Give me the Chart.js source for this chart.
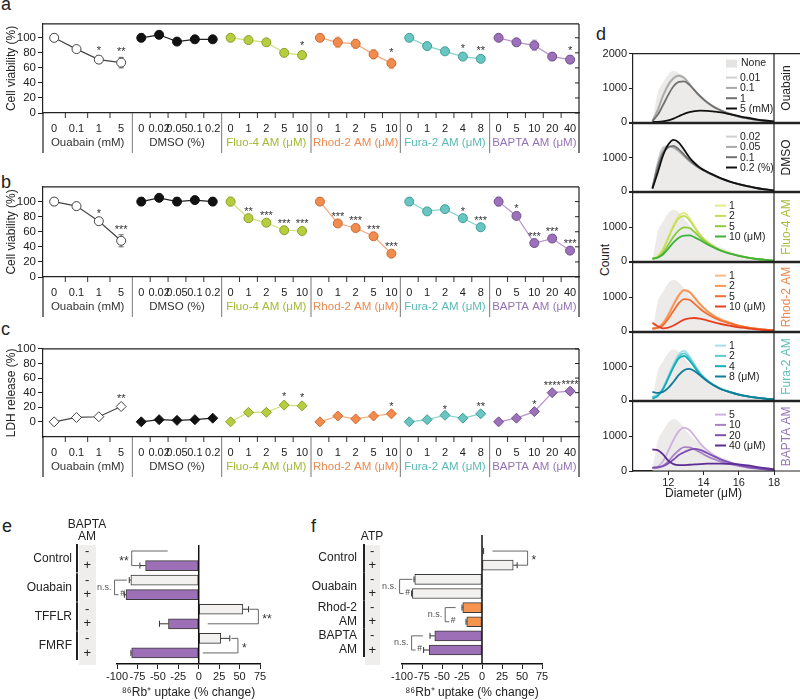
<!DOCTYPE html>
<html>
<head>
<meta charset="utf-8">
<script src="https://cdn.jsdelivr.net/npm/chart.js@4.4.1/dist/chart.umd.min.js"></script>
<style>
  html, body { margin: 0; padding: 0; background: #fff; }
  body { position: relative; width: 800px; height: 700px; overflow: hidden; font-family: 'Liberation Sans', Arial, sans-serif; color: #222; }
  canvas { position: absolute; }
  .panel { position: absolute; font-size: 18px; line-height: 1; }
  .vtitle { position: absolute; font-size: 12px; white-space: nowrap; transform: translate(-50%, -50%) rotate(-90deg); }
</style>
</head>
<body>
<div class="panel" style="left:1px;top:-5px">a</div>
<div class="panel" style="left:1px;top:173px">b</div>
<div class="panel" style="left:1px;top:320px">c</div>
<div class="panel" style="left:596px;top:25px">d</div>
<div class="panel" style="left:2px;top:517px">e</div>
<div class="panel" style="left:311px;top:517px">f</div>
<div class="vtitle" style="left:605px;top:260px">Count</div>

<canvas id="rowA" width="600" height="140" style="left:0;top:15px"></canvas>
<canvas id="rowB" width="600" height="141" style="left:0;top:178px"></canvas>
<canvas id="rowC" width="600" height="139" style="left:0;top:340px"></canvas>
<canvas id="barE" width="330" height="200" style="left:0;top:500px"></canvas>
<canvas id="barF" width="320" height="200" style="left:300px;top:500px"></canvas>

<script>
// panels a-c: dose groups
const groupNames = ['Ouabain (mM)', 'DMSO (%)', 'Fluo-4 AM (μM)', 'Rhod-2 AM (μM)', 'Fura-2 AM (μM)', 'BAPTA AM (μM)'];
const doseLabels = [
  ['0', '0.1', '1', '5'],
  ['0', '0.02', '0.05', '0.1', '0.2'],
  ['0', '1', '2', '5', '10'],
  ['0', '1', '2', '5', '10'],
  ['0', '1', '2', '4', '8'],
  ['0', '5', '10', '20', '40']
];

const viabilityA = [[100, 85, 71, 67], [100, 104, 95, 98, 98], [100, 97, 94, 80, 77], [100, 94, 92, 78, 66], [100, 89, 82, 75, 72], [100, 94, 90, 75, 71]];
const viabilityAErr = [[5, 3, 5, 7], [5, 4, 2, 2, 2], [5, 3, 3, 5, 5], [5, 7, 6, 6, 7], [4, 4, 3, 4, 4], [4, 5, 7, 5, 5]];
const viabilityAStars = [['', '', '*', '**'], ['', '', '', '', ''], ['', '', '', '', '*'], ['', '', '', '', '*'], ['', '', '', '*', '**'], ['', '', '', '', '*']];

const viabilityB = [[100, 94, 74, 48], [100, 105, 100, 102, 100], [100, 78, 72, 62, 61], [100, 71, 65, 54, 31], [100, 87, 90, 78, 66], [100, 81, 45, 51, 35]];
const viabilityBErr = [[5, 5, 3, 8], [5, 2, 5, 3, 5], [6, 2, 2, 2, 3], [5, 2, 2, 2, 2], [5, 2, 2, 2, 2], [6, 3, 2, 2, 2]];
const viabilityBStars = [['', '', '*', '***'], ['', '', '', '', ''], ['', '**', '***', '***', '***'], ['', '***', '***', '***', '***'], ['', '', '', '*', '***'], ['', '*', '***', '***', '***']];

const ldhRelease = [[0, 6, 7, 21], [0, 3, 2, 3, 5], [0, 13, 13, 23, 22], [0, 8, 4, 8, 11], [0, 3, 9, 5, 11], [0, 5, 14, 40, 42]];
const ldhReleaseErr = [[1, 1, 1, 4], [1, 1, 1, 1, 1], [1, 2, 2, 4, 4], [1, 1, 1, 1, 2], [1, 1, 1, 1, 2], [1, 1, 2, 2, 2]];
const ldhReleaseStars = [['', '', '', '**'], ['', '', '', '', ''], ['', '', '', '*', '*'], ['', '', '', '', '*'], ['', '', '*', '', '**'], ['', '', '*', '****', '****']];

// panel d: cell diameter histograms
const diameter = [11.1, 11.4, 11.7, 12.0, 12.3, 12.6, 12.9, 13.2, 13.5, 13.8, 14.2, 14.6, 15.0, 15.5, 16.0, 16.5, 17.0, 17.5, 18.0];
const countNone = [0, 850, 1150, 1400, 1500, 1420, 1250, 1060, 900, 770, 630, 500, 400, 300, 210, 150, 100, 60, 30];
const countOuabain = [
  [40, 380, 800, 1120, 1310, 1380, 1310, 1130, 930, 760, 580, 440, 340, 240, 170, 115, 75, 45, 25],
  [40, 350, 760, 1080, 1280, 1350, 1290, 1110, 920, 750, 575, 440, 340, 240, 170, 115, 75, 45, 25],
  [40, 220, 500, 800, 1050, 1180, 1190, 1090, 930, 770, 590, 450, 345, 245, 170, 115, 75, 45, 25],
  [10, 15, 30, 60, 110, 180, 250, 300, 330, 340, 335, 315, 290, 240, 185, 135, 90, 55, 30]
];
const countDmso = [
  [100, 850, 1300, 1340, 1280, 1170, 1030, 890, 770, 670, 560, 460, 370, 280, 210, 150, 100, 60, 30],
  [100, 780, 1200, 1320, 1300, 1200, 1050, 900, 780, 680, 565, 465, 375, 285, 210, 150, 100, 60, 30],
  [100, 700, 1120, 1300, 1340, 1240, 1080, 920, 790, 685, 570, 470, 380, 285, 215, 155, 100, 60, 30],
  [80, 550, 1050, 1380, 1520, 1440, 1230, 1000, 830, 700, 580, 480, 385, 290, 215, 155, 100, 60, 30]
];
const countFluo = [
  [80, 150, 360, 720, 1070, 1330, 1410, 1260, 1010, 790, 570, 430, 320, 230, 160, 110, 70, 45, 25],
  [80, 130, 330, 670, 1010, 1260, 1320, 1200, 980, 770, 565, 425, 320, 230, 160, 110, 70, 45, 25],
  [80, 120, 250, 480, 720, 900, 990, 970, 850, 700, 540, 410, 315, 230, 160, 110, 70, 45, 25],
  [80, 110, 200, 370, 550, 690, 750, 755, 700, 620, 500, 400, 310, 225, 160, 110, 70, 45, 25]
];
const countRhod = [
  [80, 120, 250, 500, 800, 1070, 1210, 1160, 990, 800, 600, 450, 340, 250, 170, 120, 80, 50, 30],
  [80, 110, 230, 470, 770, 1040, 1190, 1140, 970, 790, 595, 450, 340, 250, 170, 120, 80, 50, 30],
  [80, 100, 180, 370, 600, 820, 940, 920, 800, 660, 510, 400, 310, 230, 160, 110, 75, 50, 30],
  [250, 150, 90, 110, 170, 260, 340, 380, 390, 370, 320, 265, 215, 165, 120, 90, 60, 40, 25]
];
const countFura = [
  [100, 160, 370, 720, 1070, 1360, 1460, 1300, 1050, 820, 600, 450, 340, 250, 170, 120, 80, 50, 30],
  [100, 150, 340, 680, 1020, 1300, 1390, 1250, 1020, 800, 590, 445, 335, 245, 170, 120, 80, 50, 30],
  [50, 130, 330, 650, 980, 1240, 1310, 1180, 970, 770, 580, 440, 330, 245, 170, 120, 80, 50, 30],
  [250, 220, 250, 370, 550, 750, 890, 930, 860, 740, 575, 440, 330, 245, 170, 120, 80, 50, 30]
];
const countBapta = [
  [80, 120, 280, 580, 900, 1150, 1250, 1180, 1000, 800, 600, 450, 340, 250, 170, 120, 80, 50, 30],
  [80, 90, 150, 280, 450, 600, 690, 680, 620, 540, 430, 340, 270, 200, 150, 100, 70, 45, 25],
  [100, 110, 140, 220, 330, 460, 540, 610, 640, 610, 520, 420, 330, 240, 170, 120, 80, 50, 30],
  [620, 600, 480, 300, 200, 170, 170, 180, 190, 200, 210, 215, 215, 205, 190, 160, 120, 80, 50]
];
const histNames = ['Ouabain', 'DMSO', 'Fluo-4 AM', 'Rhod-2 AM', 'Fura-2 AM', 'BAPTA AM'];
const histLegends = [
  ['0.01', '0.1', '1', '5 (mM)'],
  ['0.02', '0.05', '0.1', '0.2 (%)'],
  ['1', '2', '5', '10 (μM)'],
  ['1', '2', '5', '10 (μM)'],
  ['1', '2', '4', '8 (μM)'],
  ['5', '10', '20', '40 (μM)']
];

// panels e, f: 86Rb+ uptake
const eGroups = [['Control'], ['Ouabain'], ['TFFLR'], ['FMRF']];
const eMinus = [0, -83, 54, 27];
const eMinusErr = [0, 2, 7, 11];
const ePlus = [-65, -89, -37, -82];
const ePlusErr = [7, 2, 11, 1];

const fGroups = [['Control'], ['Ouabain'], ['Rhod-2', 'AM'], ['BAPTA', 'AM']];
const fMinus = [1, -84, -24, -59];
const fMinusErr = [1, 1, 1, 6];
const fPlus = [39, -87, -19, -66];
const fPlusErr = [5, 1, 1, 7];

const uptakeTicks = [-100, -75, -50, -25, 0, 25, 50, 75];

// ---- styles ----
const FONT = "'Liberation Sans', Arial, sans-serif";
Chart.defaults.font.family = FONT;
Chart.defaults.font.size = 11;
Chart.defaults.color = '#222';
Chart.defaults.animation = false;
Chart.defaults.responsive = false;
Chart.defaults.events = [];
Chart.defaults.plugins.legend.display = false;
Chart.defaults.plugins.tooltip.enabled = false;

const groupStyle = [
  { line: '#444', fill: '#fff', stroke: '#444', err: '#666', text: '#333' },
  { line: '#222', fill: '#111', stroke: '#111', err: '#444', text: '#333' },
  { line: '#cfe07c', fill: '#b6cd3e', stroke: '#8c9e2c', err: '#d2e18a', text: '#a2ba34' },
  { line: '#f6a878', fill: '#f28c4e', stroke: '#c86a32', err: '#f5b08a', text: '#e98a50' },
  { line: '#84d2ce', fill: '#69c5c1', stroke: '#3f9c98', err: '#98dad6', text: '#5cbab5' },
  { line: '#b894cf', fill: '#9c70ba', stroke: '#70508c', err: '#c4a6da', text: '#9574b6' }
];

const histStyle = [
  { name: '#222', lines: ['#d0d0d0', '#a9a9a9', '#707070', '#111111'], legendX: 726 },
  { name: '#222', lines: ['#d0d0d0', '#a9a9a9', '#707070', '#111111'], legendX: 726 },
  { name: '#a7bd3c', lines: ['#e2ea8a', '#c3dc5c', '#8ccb3a', '#3fb23c'], legendX: 715 },
  { name: '#ea8a52', lines: ['#fcb886', '#f89655', '#f46d30', '#e8401f'], legendX: 715 },
  { name: '#62bdb9', lines: ['#a6dfe9', '#5ccbd0', '#14aebb', '#117b98'], legendX: 715 },
  { name: '#9676b8', lines: ['#cdb0e0', '#a783c9', '#7d50b2', '#5a2c94'], legendX: 715 }
];

function doseX(g, i) {
  return g + (i + 0.5) / doseLabels[g].length;
}

// ---- panels a, b, c ----
function doseDeco(values, errs, stars) {
  return {
    id: 'doseDeco',
    beforeDatasetsDraw(chart) {
      const { ctx, scales: { y } } = chart;
      ctx.save();
      ctx.lineWidth = 1;
      values.forEach((vals, g) => {
        const meta = chart.getDatasetMeta(g);
        ctx.strokeStyle = groupStyle[g].err;
        meta.data.forEach((pt, i) => {
          const e = errs[g][i];
          const y1 = y.getPixelForValue(vals[i] + e), y2 = y.getPixelForValue(vals[i] - e);
          ctx.beginPath();
          ctx.moveTo(pt.x, y1); ctx.lineTo(pt.x, y2);
          ctx.moveTo(pt.x - 2.5, y1); ctx.lineTo(pt.x + 2.5, y1);
          ctx.moveTo(pt.x - 2.5, y2); ctx.lineTo(pt.x + 2.5, y2);
          ctx.stroke();
        });
      });
      ctx.restore();
    },
    afterDraw(chart) {
      const { ctx, chartArea: a, scales: { x, y } } = chart;
      const drop = 40;
      ctx.save();
      ctx.strokeStyle = '#222';
      ctx.lineWidth = 1.2;
      ctx.beginPath();
      ctx.moveTo(a.left, a.top); ctx.lineTo(a.right, a.top);
      ctx.moveTo(a.right, a.top); ctx.lineTo(a.right, a.bottom + drop);
      ctx.moveTo(a.left, a.bottom); ctx.lineTo(a.left, a.bottom + drop);
      ctx.stroke();

      ctx.lineWidth = 1;
      [0, 20, 40, 60, 80, 100].forEach(v => {
        const py = y.getPixelForValue(v);
        ctx.beginPath(); ctx.moveTo(a.right, py); ctx.lineTo(a.right - 4, py); ctx.stroke();
      });

      ctx.strokeStyle = '#777';
      for (let g = 1; g < groupNames.length; g++) {
        const px = x.getPixelForValue(g);
        ctx.beginPath(); ctx.moveTo(px, a.bottom); ctx.lineTo(px, a.bottom + drop); ctx.stroke();
      }
      ctx.strokeStyle = '#333';
      doseLabels.forEach((labs, g) => {
        for (let i = 1; i < labs.length; i++) {
          const px = x.getPixelForValue(g + i / labs.length);
          ctx.beginPath(); ctx.moveTo(px, a.bottom); ctx.lineTo(px, a.bottom + 5); ctx.stroke();
        }
      });

      ctx.fillStyle = '#333';
      ctx.font = '11px ' + FONT;
      ctx.textAlign = 'center';
      ctx.textBaseline = 'alphabetic';
      values.forEach((vals, g) => {
        const meta = chart.getDatasetMeta(g);
        meta.data.forEach((pt, i) => {
          if (!stars[g][i]) return;
          ctx.fillText(stars[g][i], pt.x, y.getPixelForValue(vals[i] + errs[g][i]) - 2);
        });
      });
      ctx.restore();
    }
  };
}

function doseChart(id, values, errs, stars, o) {
  const tickPos = [], tickText = [];
  doseLabels.forEach((labs, g) => labs.forEach((t, i) => { tickPos.push(doseX(g, i)); tickText.push(t); }));
  const datasets = values.map((vals, g) => ({
    data: vals.map((v, i) => ({ x: doseX(g, i), y: v })),
    borderColor: groupStyle[g].line,
    borderWidth: 1.2,
    pointBackgroundColor: groupStyle[g].fill,
    pointBorderColor: groupStyle[g].stroke,
    pointBorderWidth: 1,
    pointRadius: o.radius,
    pointStyle: o.pointStyle,
    clip: false
  }));
  return new Chart(document.getElementById(id), {
    type: 'line',
    data: { datasets },
    options: {
      layout: { padding: { top: 8, right: 21, left: 0, bottom: 0 } },
      scales: {
        x: {
          type: 'linear', min: 0, max: 6, weight: 0,
          afterBuildTicks: ax => { ax.ticks = tickPos.map(v => ({ value: v })); },
          afterFit: ax => { ax.height = 19; },
          ticks: { autoSkip: false, maxRotation: 0, minRotation: 0, padding: 9, callback: (v, i) => tickText[i] },
          grid: { display: false, drawTicks: false },
          border: { color: '#222', width: 1.2 }
        },
        x2: {
          type: 'linear', position: 'bottom', min: 0, max: 6, weight: 1,
          afterBuildTicks: ax => { ax.ticks = groupNames.map((n, g) => ({ value: g + 0.5 })); },
          afterFit: ax => { ax.height = 23; },
          ticks: { autoSkip: false, maxRotation: 0, minRotation: 0, padding: 4, font: { size: 11.5 },
                   callback: (v, i) => groupNames[i], color: c => groupStyle[c.index].text },
          grid: { display: false, drawTicks: false },
          border: { display: false }
        },
        y: {
          min: o.min, max: o.max,
          afterBuildTicks: ax => { ax.ticks = [0, 20, 40, 60, 80, 100].map(v => ({ value: v })); },
          afterFit: ax => { ax.width = 43; },
          ticks: { padding: 2, font: { size: 11.5 } },
          grid: { drawOnChartArea: false, drawTicks: true, tickLength: 5, tickColor: '#222' },
          border: { color: '#222', width: 1.2 },
          title: { display: true, text: o.title, font: { size: 12 }, padding: { top: 4, bottom: 0 } }
        }
      }
    },
    plugins: [doseDeco(values, errs, stars)]
  });
}

doseChart('rowA', viabilityA, viabilityAErr, viabilityAStars, { min: 0, max: 118.5, radius: 4.5, pointStyle: 'circle', title: 'Cell viability (%)' });
doseChart('rowB', viabilityB, viabilityBErr, viabilityBStars, { min: 0, max: 119.5, radius: 4.5, pointStyle: 'circle', title: 'Cell viability (%)' });
doseChart('rowC', ldhRelease, ldhReleaseErr, ldhReleaseStars, { min: -20.8, max: 100, radius: 5, pointStyle: 'rectRot', title: 'LDH release (%)' });

// ---- panel d ----
function histDeco(k) {
  const st = histStyle[k];
  return {
    id: 'histDeco',
    afterDraw(chart) {
      const { ctx, chartArea: a, width: W } = chart;
      ctx.save();
      ctx.strokeStyle = '#222';
      ctx.lineWidth = 1.2;
      ctx.beginPath();
      ctx.moveTo(a.left, a.top); ctx.lineTo(W, a.top);
      ctx.moveTo(a.left, a.bottom); ctx.lineTo(W, a.bottom);
      ctx.moveTo(a.right, a.top); ctx.lineTo(a.right, a.bottom);
      ctx.stroke();

      ctx.save();
      ctx.translate(a.right + 12.5, (a.top + a.bottom) / 2);
      ctx.rotate(-Math.PI / 2);
      ctx.fillStyle = st.name;
      ctx.font = '12px ' + FONT;
      ctx.textAlign = 'center';
      ctx.textBaseline = 'middle';
      ctx.fillText(histNames[k], 0, 0);
      ctx.restore();

      const lx = st.legendX - 590;
      ctx.font = '10.5px ' + FONT;
      ctx.textAlign = 'left';
      ctx.textBaseline = 'middle';
      let yy = a.top + (k === 0 ? 10 : 13);
      if (k === 0) {
        ctx.fillStyle = '#e6e4e2';
        ctx.fillRect(lx, yy - 4, 11, 8);
        ctx.fillStyle = '#222';
        ctx.fillText('None', lx + 15, yy);
        yy += 14;
      }
      histLegends[k].forEach((lab, j) => {
        ctx.strokeStyle = st.lines[j];
        ctx.lineWidth = 2;
        ctx.beginPath(); ctx.moveTo(lx, yy); ctx.lineTo(lx + 11, yy); ctx.stroke();
        ctx.fillStyle = '#222';
        ctx.fillText(lab, lx + 14, yy + 0.5);
        yy += 10.3;
      });
      ctx.restore();
    }
  };
}

const histSeries = [countOuabain, countDmso, countFluo, countRhod, countFura, countBapta];
const histTop = 53, histBottom = 471;
histNames.forEach((name, k) => {
  const step = (histBottom - histTop) / histNames.length;
  const top = Math.round(histTop + k * step);
  const bottom = Math.round(histTop + (k + 1) * step);
  const last = k === histNames.length - 1;
  const cv = document.createElement('canvas');
  cv.width = 210;
  cv.height = bottom - top + 8 + (last ? 34 : 8);
  cv.style.left = '590px';
  cv.style.top = (top - 8) + 'px';
  document.body.appendChild(cv);

  const st = histStyle[k];
  const datasets = histSeries[k].map((vals, j) => ({
    label: histLegends[k][j],
    data: diameter.map((d, i) => ({ x: d, y: vals[i] })),
    borderColor: st.lines[j],
    borderWidth: 1.8,
    pointRadius: 0,
    cubicInterpolationMode: 'monotone',
    fill: false
  })).reverse();
  datasets.push({
    label: 'None',
    data: diameter.map((d, i) => ({ x: d, y: countNone[i] })),
    borderColor: 'rgba(0,0,0,0)',
    backgroundColor: '#ecebea',
    fill: 'origin',
    pointRadius: 0,
    cubicInterpolationMode: 'monotone'
  });

  const xAxis = {
    type: 'linear', min: 10, max: 18, display: last,
    ticks: { stepSize: 2, padding: 1, font: { size: 11 }, callback: v => (v === 10 ? '' : String(v)) },
    grid: { drawOnChartArea: false, tickLength: 4, tickColor: c => (c.tick && c.tick.value === 10 ? 'rgba(0,0,0,0)' : '#222') },
    border: { color: '#222', width: 1.2 },
    title: { display: true, text: 'Diameter (μM)', font: { size: 12 }, padding: { top: 0, bottom: 4 } }
  };
  if (last) xAxis.afterFit = ax => { ax.height = 34; };

  new Chart(cv, {
    type: 'line',
    data: { datasets },
    options: {
      layout: { padding: { top: 8, right: 26, left: 0, bottom: last ? 0 : 8 } },
      scales: {
        x: xAxis,
        y: {
          min: 0, max: 2000,
          afterFit: ax => { ax.width = 43; },
          ticks: { stepSize: 1000, padding: 2, font: { size: 11 }, callback: v => (v === 2000 && k > 0 ? '' : String(v)) },
          grid: { drawOnChartArea: false, tickLength: 4, tickColor: '#222' },
          border: { color: '#222', width: 1.2 }
        }
      }
    },
    plugins: [histDeco(k)]
  });
});

// ---- panels e, f ----
function barDeco(cfg, rows) {
  return {
    id: 'barDeco',
    beforeDraw(chart) {
      const ctx = chart.ctx;
      ctx.save();
      ctx.fillStyle = '#efeeec';
      ctx.fillRect(cfg.shade[0], cfg.shade[1], cfg.shade[2], cfg.shade[3]);
      ctx.restore();
    },
    afterDatasetsDraw(chart) {
      const { ctx, scales: { x } } = chart;
      const meta = chart.getDatasetMeta(0);
      ctx.save();
      ctx.strokeStyle = '#333';
      ctx.lineWidth = 1;
      meta.data.forEach((bar, i) => {
        const r = rows[i];
        if (!r.err) return;
        const dir = r.x < 0 ? -1 : 1;
        const end = x.getPixelForValue(r.x + dir * r.err);
        ctx.beginPath();
        ctx.moveTo(bar.x, bar.y); ctx.lineTo(end, bar.y);
        ctx.moveTo(end, bar.y - 3); ctx.lineTo(end, bar.y + 3);
        ctx.stroke();
      });
      ctx.restore();
    },
    afterDraw(chart) {
      const { ctx, chartArea: a, scales: { x, y } } = chart;
      ctx.save();
      const zx = x.getPixelForValue(0);
      ctx.strokeStyle = '#111';
      ctx.lineWidth = 1.5;
      ctx.beginPath(); ctx.moveTo(zx, cfg.zeroTop); ctx.lineTo(zx, a.bottom); ctx.stroke();

      cfg.brackets.forEach(b => {
        const y1 = y.getPixelForValue(b.row), y2 = y.getPixelForValue(b.row + 1);
        const xb = x.getPixelForValue(b.x);
        ctx.strokeStyle = '#666';
        ctx.lineWidth = 1;
        ctx.beginPath();
        ctx.moveTo(x.getPixelForValue(b.top), y1);
        ctx.lineTo(xb, y1);
        ctx.lineTo(xb, y2);
        ctx.lineTo(b.hash ? xb + 4 : x.getPixelForValue(b.bottom), y2);
        ctx.stroke();
        const star = b.text.indexOf('*') >= 0;
        ctx.fillStyle = star ? '#333' : '#555';
        ctx.font = (star ? '12px ' : '9px ') + FONT;
        ctx.textBaseline = 'middle';
        ctx.textAlign = b.side === 'left' ? 'right' : 'left';
        const tx = b.side === 'left' ? xb - 3 : xb + 4;
        ctx.fillText(b.text, tx, (y1 + y2) / 2 + (star ? 3 : 0));
        if (b.hash) {
          ctx.fillStyle = '#444';
          ctx.font = '8.5px ' + FONT;
          ctx.textAlign = 'center';
          ctx.fillText('#', xb + 8, y2 - 1);
        }
      });

      ctx.fillStyle = '#222';
      ctx.strokeStyle = '#222';
      ctx.font = '12px ' + FONT;
      ctx.textAlign = 'right';
      ctx.textBaseline = 'middle';
      cfg.groups.forEach((lines, g) => {
        const yA = y.getPixelForValue(2 * g), yB = y.getPixelForValue(2 * g + 1);
        if (lines.length === 1) ctx.fillText(lines[0], cfg.labelX, (yA + yB) / 2);
        else lines.forEach((t, i) => ctx.fillText(t, cfg.labelX, i ? yB : yA));
        ctx.lineWidth = 2;
        ctx.beginPath(); ctx.moveTo(cfg.barX, yA - 7); ctx.lineTo(cfg.barX, yB + 7); ctx.stroke();
      });
      ctx.textAlign = 'center';
      cfg.header.forEach(h => ctx.fillText(h[0], h[1], h[2]));
      ctx.restore();
    }
  };
}

function barChart(id, cfg) {
  const rows = [];
  cfg.minus.forEach((v, g) => {
    rows.push({ x: v, y: 2 * g, err: cfg.minusErr[g], fill: cfg.minusFill[g] });
    rows.push({ x: cfg.plus[g], y: 2 * g + 1, err: cfg.plusErr[g], fill: cfg.plusFill[g] });
  });
  return new Chart(document.getElementById(id), {
    type: 'bar',
    data: {
      datasets: [{
        data: rows.map(r => ({ x: r.x, y: r.y })),
        backgroundColor: rows.map(r => r.fill),
        borderColor: '#3a3a3a',
        borderWidth: 1,
        borderSkipped: false,
        barThickness: 10
      }]
    },
    options: {
      indexAxis: 'y',
      layout: { padding: { top: 43, right: cfg.padRight, left: 0, bottom: 0 } },
      scales: {
        x: {
          type: 'linear', min: -100, max: 75,
          afterBuildTicks: ax => { ax.ticks = uptakeTicks.map(v => ({ value: v })); },
          afterFit: ax => { ax.height = 36; },
          ticks: { autoSkip: false, maxRotation: 0, padding: 1, font: { size: 11 } },
          grid: { drawOnChartArea: false, drawTicks: true, tickLength: 5, tickColor: '#222' },
          border: { color: '#111', width: 1.5 },
          title: { display: true, text: '⁸⁶Rb⁺ uptake (% change)', font: { size: 12 }, padding: { top: 0, bottom: 0 } }
        },
        y: {
          type: 'linear', reverse: true, offset: false, min: cfg.yMin, max: cfg.yMax,
          afterBuildTicks: ax => { ax.ticks = rows.map(r => ({ value: r.y })); },
          afterFit: ax => { ax.width = cfg.axisWidth; },
          ticks: { autoSkip: false, crossAlign: 'center', padding: 26, font: { size: 13 }, callback: (v, i) => (i % 2 ? '+' : '-') },
          grid: { display: false, drawTicks: false },
          border: { display: false }
        }
      }
    },
    plugins: [barDeco(cfg, rows)]
  });
}

const white = '#f2f1ef', purple = '#9c6fb6', orange = '#f5954f';

barChart('barE', {
  minus: eMinus, minusErr: eMinusErr, plus: ePlus, plusErr: ePlusErr,
  minusFill: [white, white, white, white], plusFill: [purple, purple, purple, purple],
  groups: eGroups, yMin: -0.55, yMax: 7.76, axisWidth: 117, padRight: 70,
  shade: [79, 45, 17, 120], zeroTop: 45, labelX: 72, barX: 77,
  header: [['BAPTA', 87, 25], ['AM', 87, 37]],
  brackets: [
    { row: 0, x: -82, top: -38, bottom: -73, text: '**', side: 'left' },
    { row: 2, x: -103, top: -88, bottom: -92, text: 'n.s.', side: 'left', hash: true },
    { row: 4, x: 73, top: 62, bottom: 11, text: '**', side: 'right' },
    { row: 6, x: 48, top: 40, bottom: 5, text: '*', side: 'right' }
  ]
});

barChart('barF', {
  minus: fMinus, minusErr: fMinusErr, plus: fPlus, plusErr: fPlusErr,
  minusFill: [white, white, orange, purple], plusFill: [white, white, orange, purple],
  groups: fGroups, yMin: -0.57, yMax: 7.99, axisWidth: 102, padRight: 78,
  shade: [65, 45, 15, 120], zeroTop: 35, labelX: 57, barX: 64,
  header: [['ATP', 72, 37]],
  brackets: [
    { row: 0, x: 57, top: 13, bottom: 45, text: '*', side: 'right' },
    { row: 2, x: -103, top: -87, bottom: -89, text: 'n.s.', side: 'left', hash: true },
    { row: 4, x: -46, top: -33, bottom: -25, text: 'n.s.', side: 'left', hash: true },
    { row: 6, x: -88, top: -74, bottom: -72, text: 'n.s.', side: 'left', hash: true }
  ]
});
</script>
</body>
</html>
